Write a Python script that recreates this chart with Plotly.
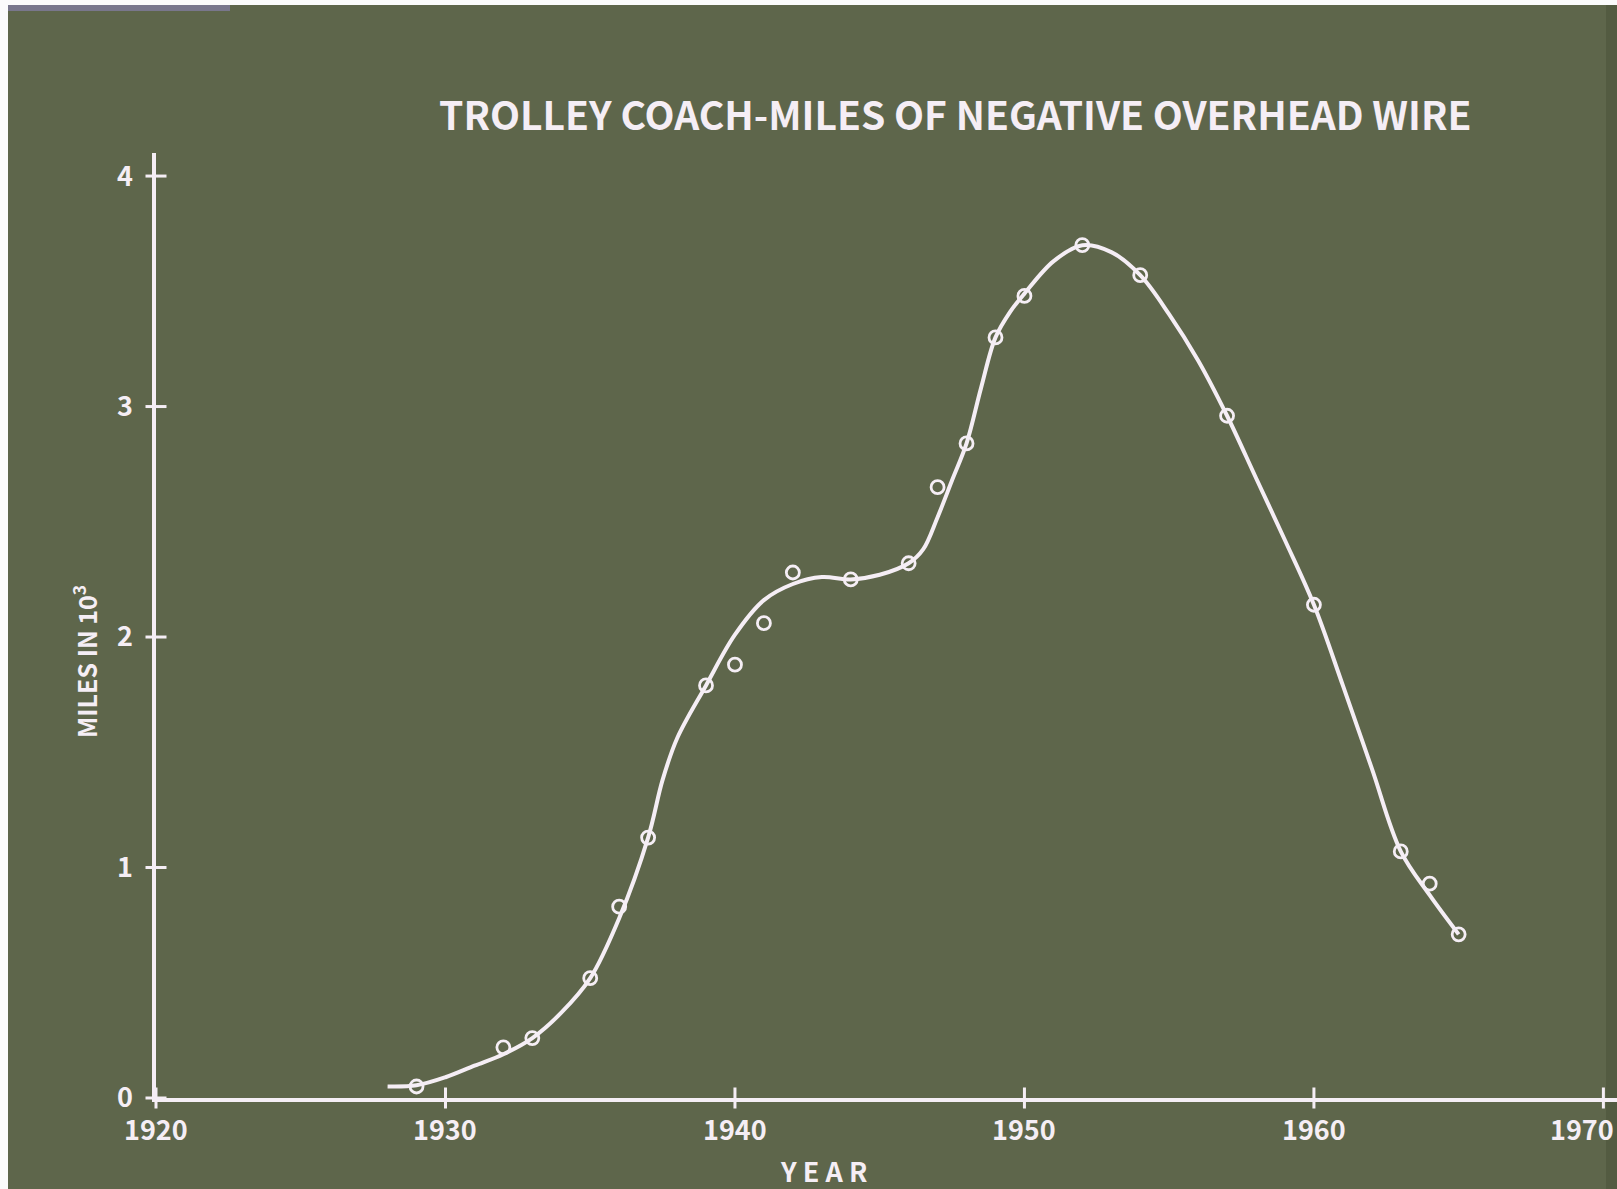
import plotly.graph_objects as go

# Observed trolley coach-miles of negative overhead wire (thousands of miles)
obs_years = [1929, 1932, 1933, 1935, 1936, 1937, 1939, 1940, 1941, 1942, 1944,
             1946, 1947, 1948, 1949, 1950, 1952, 1954, 1957, 1960, 1963, 1964, 1965]
obs_miles = [0.05, 0.22, 0.26, 0.52, 0.83, 1.13, 1.79, 1.88, 2.06, 2.28, 2.25,
             2.32, 2.65, 2.84, 3.30, 3.48, 3.70, 3.57, 2.96, 2.14, 1.07, 0.93, 0.71]

# Hand-faired trend curve through the observations
curve_years = [1928.0, 1929, 1930, 1931, 1932, 1933, 1934, 1935, 1936, 1937,
               1937.5, 1938, 1939, 1940, 1941, 1942, 1943, 1944, 1945, 1946,
               1946.5, 1947, 1947.5, 1948, 1948.5, 1949, 1949.5, 1950, 1951, 1952,
               1953, 1954, 1955, 1956, 1957, 1958, 1959, 1960, 1961, 1962,
               1963, 1964, 1965]
curve_miles = [0.05, 0.055, 0.09, 0.14, 0.19, 0.26, 0.37, 0.52, 0.78, 1.13,
               1.38, 1.56, 1.79, 2.01, 2.16, 2.23, 2.26, 2.25, 2.27, 2.32,
               2.38, 2.52, 2.68, 2.84, 3.08, 3.30, 3.41, 3.49, 3.63, 3.70,
               3.67, 3.57, 3.40, 3.20, 2.96, 2.69, 2.42, 2.14, 1.79, 1.43,
               1.07, 0.88, 0.71]

x_ticks = [1920, 1930, 1940, 1950, 1960, 1970]
x_tick_text = ["1920", "1930", "1940", "1950", "1960", "1970"]
y_ticks = [0, 1, 2, 3, 4]
y_tick_text = ["0", "1", "2", "3", "4"]

title_text = "TROLLEY COACH-MILES OF NEGATIVE OVERHEAD WIRE"
y_title = "MILES IN 10<sup>3</sup>"
x_title = "Y E A R"

BG = "#5e664b"
INK = "#f5eef5"
FONT = "Noto Sans CJK SC, Roboto, sans-serif"

fig = go.Figure()

# smooth trend line
fig.add_trace(go.Scatter(
    x=curve_years, y=curve_miles, mode="lines",
    line=dict(color=INK, width=4, shape="spline", smoothing=1.0),
    hoverinfo="skip", showlegend=False,
))

# observation circles
fig.add_trace(go.Scatter(
    x=obs_years, y=obs_miles, mode="markers",
    marker=dict(symbol="circle-open", size=13, color=INK, line=dict(width=2.8, color=INK)),
    showlegend=False, cliponaxis=False,
))

# tick marks crossing the axes
fig.add_trace(go.Scatter(
    x=x_ticks, y=[0] * len(x_ticks), mode="markers",
    marker=dict(symbol="line-ns", size=15, line=dict(width=3, color=INK)),
    hoverinfo="skip", showlegend=False, cliponaxis=False,
))
fig.add_trace(go.Scatter(
    x=[x_ticks[0]] * len(y_ticks), y=y_ticks, mode="markers",
    marker=dict(symbol="line-ew", size=15, line=dict(width=3, color=INK)),
    hoverinfo="skip", showlegend=False, cliponaxis=False,
))

# year labels under the axis; the last one is kept inside the frame
year_labels = []
for i, (yr, txt) in enumerate(zip(x_ticks, x_tick_text)):
    last = i == len(x_ticks) - 1
    year_labels.append(dict(
        text=txt, xref="x", yref="paper", x=yr, y=0,
        xanchor="right" if last else "center", yanchor="top",
        xshift=13 if last else 0, yshift=-9, showarrow=False,
        font=dict(family=FONT, size=27, color=INK, weight="bold"),
    ))

fig.update_layout(
    width=1617, height=1189, autosize=False,
    margin=dict(l=156, r=0, t=153, b=91),
    paper_bgcolor=BG, plot_bgcolor="rgba(0,0,0,0)",
    font=dict(family=FONT, color=INK),
    xaxis=dict(
        range=[1920, 1970.47], tickvals=x_ticks, showticklabels=False,
        showline=True, linecolor=INK, linewidth=3.5, ticks="", showgrid=False,
        zeroline=False, automargin=False,
    ),
    yaxis=dict(
        range=[0, 4.1], tickvals=y_ticks, ticktext=y_tick_text,
        showline=True, linecolor=INK, linewidth=3.5, ticks="", showgrid=False,
        zeroline=False, ticklabelstandoff=14, automargin=False,
        tickfont=dict(family=FONT, size=27, color=INK, weight="bold"),
    ),
    shapes=[
        # white slide border on the left and top
        dict(type="rect", xref="paper", yref="paper", x0=-0.11, x1=(8 - 156) / 1461,
             y0=-0.2, y1=1.2, fillcolor="#fbfbfb", line=dict(width=0), layer="above"),
        dict(type="rect", xref="paper", yref="paper", x0=-0.11, x1=1.01,
             y0=(1098 - 5) / 945, y1=1.2, fillcolor="#fbfbfb", line=dict(width=0), layer="above"),
        # bluish strip along the top-left edge
        dict(type="rect", xref="paper", yref="paper", x0=(8 - 156) / 1461, x1=(230 - 156) / 1461,
             y0=(1098 - 11) / 945, y1=(1098 - 5) / 945, fillcolor="#7f7c9c",
             opacity=0.8, line=dict(width=0), layer="below"),
        # darker strip along the right edge
        dict(type="rect", xref="paper", yref="paper", x0=(1606 - 156) / 1461, x1=1.01,
             y0=-0.2, y1=(1098 - 5) / 945, fillcolor="#4f573d", opacity=0.7,
             line=dict(width=0), layer="below"),
    ],
    annotations=year_labels + [
        dict(text=title_text, xref="paper", yref="paper",
             x=(955 - 156) / 1461, y=(1098 - 113) / 945, xanchor="center", yanchor="middle",
             showarrow=False, font=dict(family=FONT, size=39, color=INK, weight="bold")),
        dict(text=y_title, xref="paper", yref="paper", textangle=-90,
             x=(85 - 156) / 1461, y=(1098 - 662) / 945, xanchor="center", yanchor="middle",
             showarrow=False, font=dict(family=FONT, size=25, color=INK, weight="bold")),
        dict(text=x_title, xref="paper", yref="paper",
             x=(823 - 156) / 1461, y=(1098 - 1170) / 945, xanchor="center", yanchor="middle",
             showarrow=False, font=dict(family=FONT, size=27, color=INK, weight="bold")),
    ],
)

fig.write_html("out.html", config={"responsive": False})
